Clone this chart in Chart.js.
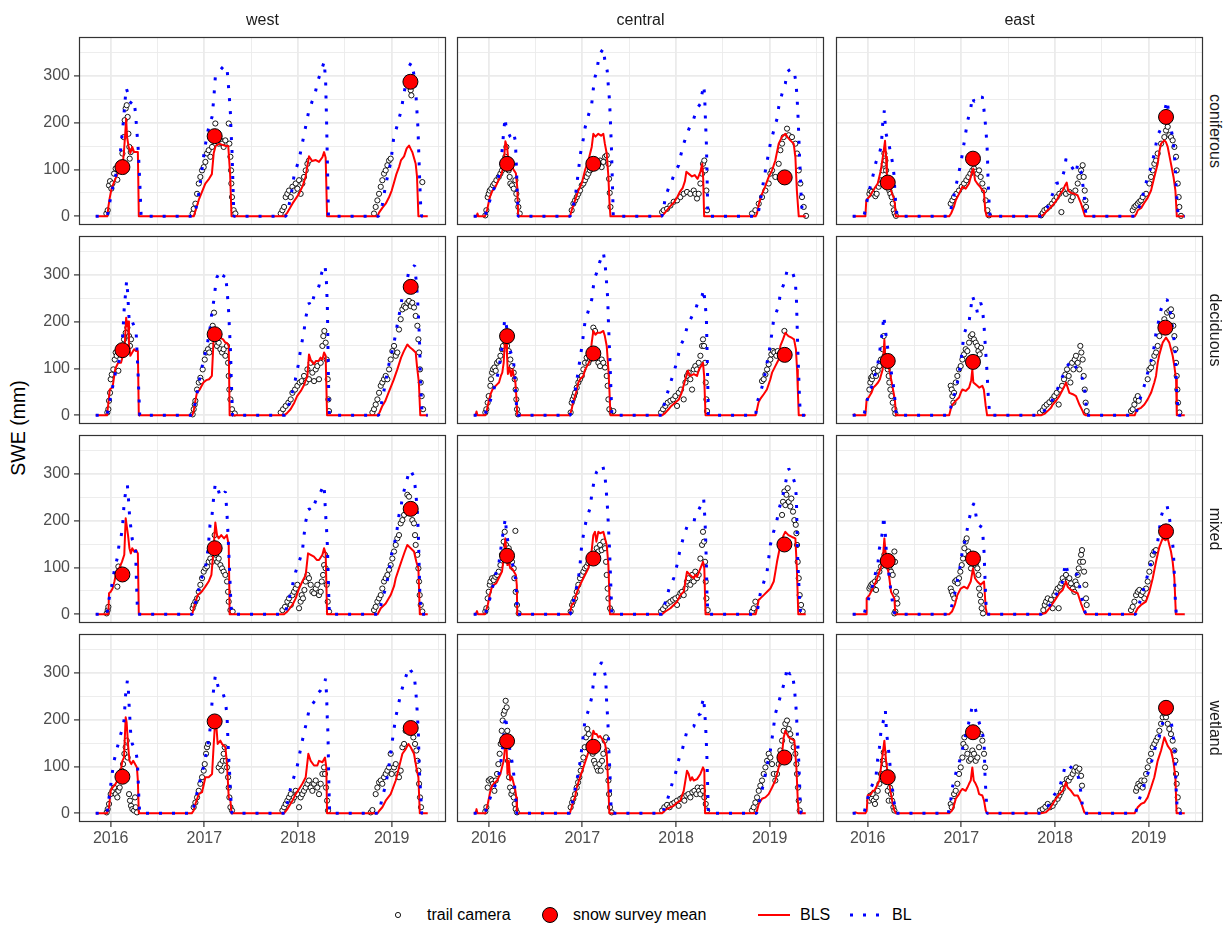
<!DOCTYPE html>
<html>
<head>
<meta charset="utf-8">
<script src="https://cdn.jsdelivr.net/npm/chart.js@4.4.1/dist/chart.umd.min.js"></script>
<style>
  html, body { margin: 0; padding: 0; background: #ffffff; }
  #page { position: relative; width: 1228px; height: 925px; overflow: hidden; font-family: "Liberation Sans", Arial, sans-serif; }
  #page canvas { position: absolute; }
  .stripTop { position: absolute; width: 367px; text-align: center; font-size: 16px; color: #1A1A1A; line-height: 18px; }
  .stripRight { position: absolute; width: 188px; text-align: center; font-size: 16px; color: #1A1A1A; line-height: 18px; transform-origin: center center; transform: rotate(90deg); }
  .ytitle { position: absolute; width: 200px; text-align: center; font-size: 19.5px; color: #000; line-height: 22px; transform: rotate(-90deg); }
  .legText { position: absolute; font-size: 16px; color: #000; line-height: 18px; white-space: nowrap; }
  .legKey { position: absolute; }
</style>
</head>
<body>
<div id="page"></div>
<script>
// Facets: land cover in rows, region in columns
const ROWS = ['coniferous', 'deciduous', 'mixed', 'wetland'];
const COLS = ['west', 'central', 'east'];

// Labelled (major) and unlabelled (minor) breaks: years and SWE (mm)
const X_TICKS = [2016, 2017, 2018, 2019];
const X_MINOR = [2016.5, 2017.5, 2018.5, 2019.5];
const Y_TICKS = [0, 100, 200, 300];
const Y_MINOR = [50, 150, 250, 350];

// ---------------- coniferous ----------------
const westConiferousCam = [
 [2015.954,6],[2015.968,13],[2015.982,66],[2015.993,75],[2016.007,59],[2016.018,70],[2016.036,91],[2016.053,102],[2016.071,78],[2016.107,112],[2016.125,134],[2016.139,169],[2016.149,205],[2016.16,230],[2016.171,237],[2016.181,212],[2016.189,176],[2016.199,148],[2016.214,137],[2016.203,123],
 [2016.875,6],[2016.886,16],[2016.904,27],[2016.922,48],[2016.94,70],[2016.957,84],[2016.975,98],[2016.993,105],[2017.011,116],[2017.028,134],[2017.046,141],[2017.064,127],[2017.082,148],[2017.1,169],[2017.117,198],[2017.135,169],[2017.153,155],[2017.171,162],[2017.189,155],[2017.206,148],[2017.224,162],[2017.26,198],[2017.267,155],[2017.278,127],[2017.285,98],[2017.288,70],[2017.295,41],[2017.313,13],[2017.331,6],
 [2017.815,6],[2017.833,13],[2017.851,20],[2017.868,41],[2017.886,48],[2017.904,55],[2017.922,41],[2017.94,63],[2017.957,55],[2017.975,70],[2017.993,59],[2018.011,77],[2018.028,48],[2018.046,70],[2018.064,84],[2018.082,98],[2018.1,112],[2018.117,119],
 [2018.811,6],[2018.829,20],[2018.847,34],[2018.865,48],[2018.883,63],[2018.9,77],[2018.918,91],[2018.936,98],[2018.954,109],[2018.972,119],[2018.989,123],[2019.203,269],[2019.21,258],[2019.327,73]
];
const westConiferousSurvey = [[2016.125,105],[2017.11,171],[2019.2,287]];
const westConiferousBLS = [
 [2015.84,0],[2015.964,0],[2015.975,20],[2015.99,40],[2016.01,60],[2016.05,80],[2016.09,97],[2016.125,105],[2016.14,134],[2016.155,176],[2016.165,208],[2016.175,169],[2016.19,150],[2016.21,135],[2016.23,148],[2016.25,137],[2016.27,137],[2016.29,137],[2016.3,0],
 [2016.886,0],[2016.91,15],[2016.94,35],[2016.98,55],[2017.01,70],[2017.05,80],[2017.08,90],[2017.1,135],[2017.12,150],[2017.16,155],[2017.2,152],[2017.23,150],[2017.255,150],[2017.275,90],[2017.29,0],
 [2017.851,0],[2017.886,8],[2017.94,27],[2018.01,48],[2018.05,65],[2018.08,84],[2018.117,128],[2018.15,118],[2018.19,120],[2018.224,116],[2018.26,126],[2018.278,137],[2018.295,125],[2018.31,0],
 [2018.847,0],[2018.865,8],[2018.9,18],[2018.936,27],[2018.97,40],[2019.0,55],[2019.025,72],[2019.05,90],[2019.078,105],[2019.1,120],[2019.132,128],[2019.16,145],[2019.185,151],[2019.2,145],[2019.22,137],[2019.256,112],[2019.27,85],[2019.285,0],[2019.385,0]
];
const westConiferousBL = [
 [2015.84,0],[2015.964,0],[2015.99,30],[2016.03,70],[2016.07,100],[2016.1,130],[2016.13,190],[2016.155,250],[2016.165,274],[2016.18,265],[2016.2,245],[2016.23,240],[2016.25,245],[2016.265,220],[2016.28,180],[2016.295,140],[2016.31,75],[2016.325,0],
 [2016.886,0],[2016.92,25],[2016.95,60],[2016.975,100],[2017.0,140],[2017.03,175],[2017.06,200],[2017.082,212],[2017.1,250],[2017.117,297],[2017.135,301],[2017.153,308],[2017.196,318],[2017.217,322],[2017.242,315],[2017.253,290],[2017.26,270],[2017.27,245],[2017.278,220],[2017.285,180],[2017.295,140],[2017.305,70],[2017.315,0],
 [2017.87,0],[2017.9,20],[2017.93,50],[2017.96,90],[2018.01,120],[2018.04,150],[2018.08,190],[2018.11,220],[2018.15,245],[2018.18,260],[2018.21,288],[2018.25,312],[2018.28,330],[2018.295,285],[2018.305,200],[2018.315,100],[2018.325,0],
 [2018.86,0],[2018.9,25],[2018.93,60],[2018.96,90],[2018.99,115],[2019.02,165],[2019.06,195],[2019.1,225],[2019.13,260],[2019.16,295],[2019.185,320],[2019.21,328],[2019.235,305],[2019.26,255],[2019.28,190],[2019.29,130],[2019.3,70],[2019.31,20],[2019.32,0],[2019.385,0]
];

const centralConiferousCam = [
 [2015.964,2],[2015.975,13],[2015.989,41],[2016.0,48],[2016.011,55],[2016.028,59],[2016.046,66],[2016.061,70],[2016.082,77],[2016.107,84],[2016.125,91],[2016.142,98],[2016.16,112],[2016.178,127],[2016.189,148],[2016.203,105],[2016.214,98],[2016.224,84],[2016.231,70],[2016.249,66],[2016.267,59],[2016.285,77],[2016.295,48],[2016.306,34],[2016.317,20],[2016.331,6],
 [2016.886,13],[2016.904,27],[2016.922,34],[2016.94,41],[2016.957,48],[2016.975,55],[2016.993,66],[2017.011,70],[2017.028,77],[2017.046,84],[2017.064,91],[2017.082,98],[2017.1,102],[2017.117,105],[2017.135,109],[2017.153,112],[2017.171,116],[2017.189,119],[2017.206,105],[2017.224,116],[2017.242,127],[2017.26,130],[2017.278,112],[2017.285,80],[2017.292,50],[2017.3,20],
 [2017.851,9],[2017.868,13],[2017.904,16],[2017.94,23],[2017.975,31],[2018.011,34],[2018.046,41],[2018.082,48],[2018.117,52],[2018.153,48],[2018.189,55],[2018.206,48],[2018.224,38],[2018.242,48],[2018.26,70],[2018.278,91],[2018.288,112],[2018.302,119],[2018.313,98],[2018.324,55],[2018.331,13],
 [2018.811,6],[2018.847,13],[2018.883,27],[2018.918,41],[2018.954,55],[2018.989,70],[2019.007,91],[2019.025,98],[2019.06,84],[2019.096,112],[2019.114,141],[2019.132,155],[2019.149,169],[2019.185,187],[2019.203,173],[2019.238,169],[2019.274,155],[2019.292,134],[2019.31,98],[2019.327,70],[2019.345,41],[2019.363,20],[2019.388,1]
];
const centralConiferousSurvey = [[2016.196,112],[2017.117,112],[2019.16,83]];
const centralConiferousBLS = [
 [2015.84,0],[2015.87,0],[2015.88,6],[2015.89,0],[2015.96,0],[2015.985,15],[2016.01,40],[2016.04,55],[2016.07,62],[2016.1,75],[2016.14,92],[2016.16,112],[2016.178,160],[2016.196,148],[2016.21,120],[2016.23,98],[2016.25,105],[2016.27,98],[2016.29,92],[2016.305,62],[2016.315,0],
 [2016.868,0],[2016.886,13],[2016.922,34],[2016.957,55],[2016.993,70],[2017.028,98],[2017.064,119],[2017.1,148],[2017.117,176],[2017.14,170],[2017.17,176],[2017.2,172],[2017.224,176],[2017.24,155],[2017.26,134],[2017.278,84],[2017.29,27],[2017.3,0],
 [2017.84,0],[2017.87,5],[2017.9,12],[2017.94,22],[2017.98,30],[2018.01,40],[2018.04,52],[2018.07,60],[2018.095,75],[2018.11,95],[2018.14,90],[2018.17,85],[2018.2,88],[2018.23,80],[2018.26,95],[2018.28,112],[2018.29,80],[2018.3,0],
 [2018.85,0],[2018.865,6],[2018.885,27],[2018.918,48],[2018.95,63],[2018.989,84],[2019.025,98],[2019.06,119],[2019.096,155],[2019.13,169],[2019.167,176],[2019.19,169],[2019.22,162],[2019.256,155],[2019.274,127],[2019.29,55],[2019.31,0],[2019.385,0]
];
const centralConiferousBL = [
 [2015.84,0],[2015.96,0],[2015.99,20],[2016.03,45],[2016.07,66],[2016.1,80],[2016.13,110],[2016.16,180],[2016.175,210],[2016.19,182],[2016.21,178],[2016.23,170],[2016.25,165],[2016.27,175],[2016.285,160],[2016.295,110],[2016.305,50],[2016.315,0],
 [2016.87,0],[2016.9,20],[2016.93,50],[2016.96,100],[2016.98,134],[2017.01,165],[2017.03,190],[2017.064,215],[2017.1,240],[2017.117,272],[2017.135,297],[2017.153,308],[2017.171,333],[2017.189,347],[2017.224,358],[2017.242,329],[2017.265,311],[2017.278,276],[2017.29,247],[2017.3,200],[2017.31,148],[2017.32,77],[2017.33,0],
 [2017.85,0],[2017.87,20],[2017.886,41],[2017.92,60],[2017.957,77],[2017.99,95],[2018.028,109],[2018.05,130],[2018.082,155],[2018.117,176],[2018.153,194],[2018.189,208],[2018.224,230],[2018.26,240],[2018.278,262],[2018.295,279],[2018.305,260],[2018.313,212],[2018.324,155],[2018.33,100],[2018.335,50],[2018.34,0],
 [2018.87,0],[2018.89,20],[2018.91,45],[2018.936,77],[2018.97,115],[2019.007,155],[2019.043,183],[2019.078,208],[2019.096,233],[2019.132,262],[2019.167,283],[2019.185,308],[2019.21,312],[2019.238,315],[2019.265,305],[2019.28,285],[2019.292,255],[2019.302,215],[2019.31,175],[2019.318,130],[2019.327,90],[2019.335,45],[2019.345,15],[2019.36,0],[2019.385,0]
];

const eastConiferousCam = [
 [2016.018,48],[2016.028,55],[2016.043,52],[2016.061,48],[2016.082,43],[2016.096,48],[2016.117,63],[2016.132,70],[2016.146,77],[2016.16,98],[2016.171,112],[2016.178,134],[2016.189,119],[2016.196,98],[2016.214,77],[2016.224,63],[2016.231,55],[2016.242,48],[2016.256,41],[2016.267,27],[2016.278,13],[2016.288,6],[2016.302,1],
 [2016.886,27],[2016.904,34],[2016.922,41],[2016.947,48],[2016.975,55],[2017.004,63],[2017.028,70],[2017.053,77],[2017.075,84],[2017.096,91],[2017.117,98],[2017.135,102],[2017.153,95],[2017.171,91],[2017.189,98],[2017.206,84],[2017.224,70],[2017.242,55],[2017.26,34],[2017.278,13],[2017.295,2],
 [2017.851,2],[2017.868,7],[2017.886,13],[2017.911,16],[2017.94,21],[2017.968,27],[2017.993,34],[2018.018,41],[2018.046,48],[2018.068,9],[2018.082,55],[2018.117,48],[2018.153,52],[2018.171,34],[2018.189,41],[2018.217,55],[2018.242,70],[2018.26,84],[2018.278,98],[2018.295,109],[2018.306,84],[2018.317,55],[2018.324,34],[2018.331,20],
 [2018.829,13],[2018.847,20],[2018.865,23],[2018.883,27],[2018.9,31],[2018.918,34],[2018.936,41],[2018.972,48],[2019.007,70],[2019.025,84],[2019.043,98],[2019.06,112],[2019.078,119],[2019.096,134],[2019.132,155],[2019.167,169],[2019.185,183],[2019.203,191],[2019.22,173],[2019.238,169],[2019.256,162],[2019.274,148],[2019.292,127],[2019.299,98],[2019.31,70],[2019.32,41],[2019.327,20],[2019.345,1]
];
const eastConiferousSurvey = [[2016.214,72],[2017.124,123],[2019.185,212]];
const eastConiferousBLS = [
 [2015.84,0],[2015.975,0],[2015.985,34],[2016.0,38],[2016.02,42],[2016.05,52],[2016.08,62],[2016.107,70],[2016.14,98],[2016.167,134],[2016.185,161],[2016.196,127],[2016.205,85],[2016.22,70],[2016.24,62],[2016.26,48],[2016.275,41],[2016.29,27],[2016.3,0],
 [2016.87,0],[2016.89,6],[2016.92,20],[2016.94,34],[2016.975,48],[2017.011,63],[2017.046,59],[2017.082,70],[2017.1,84],[2017.117,98],[2017.128,102],[2017.146,77],[2017.17,70],[2017.2,63],[2017.225,55],[2017.24,55],[2017.255,13],[2017.27,0],
 [2017.85,0],[2017.88,4],[2017.92,13],[2017.957,20],[2017.99,27],[2018.028,38],[2018.055,48],[2018.082,55],[2018.105,65],[2018.125,72],[2018.14,55],[2018.17,50],[2018.206,48],[2018.24,45],[2018.278,27],[2018.3,13],[2018.32,0],
 [2018.85,0],[2018.87,6],[2018.883,13],[2018.92,18],[2018.95,28],[2018.99,40],[2019.025,55],[2019.06,84],[2019.096,112],[2019.115,140],[2019.132,155],[2019.167,162],[2019.185,158],[2019.203,148],[2019.238,112],[2019.265,84],[2019.285,55],[2019.3,0],[2019.385,0]
];
const eastConiferousBL = [
 [2015.84,0],[2015.96,0],[2015.985,25],[2016.01,50],[2016.036,70],[2016.06,90],[2016.089,116],[2016.125,134],[2016.145,150],[2016.16,198],[2016.178,226],[2016.19,185],[2016.2,173],[2016.22,160],[2016.24,140],[2016.255,125],[2016.267,112],[2016.28,90],[2016.29,55],[2016.3,25],[2016.315,0],
 [2016.87,0],[2016.9,25],[2016.94,63],[2016.97,90],[2016.993,112],[2017.011,134],[2017.04,170],[2017.064,201],[2017.1,230],[2017.117,255],[2017.135,245],[2017.153,247],[2017.17,244],[2017.189,251],[2017.224,255],[2017.24,230],[2017.26,190],[2017.27,162],[2017.278,134],[2017.285,77],[2017.295,34],[2017.305,0],
 [2017.85,0],[2017.88,8],[2017.92,20],[2017.95,35],[2017.975,48],[2018.011,70],[2018.05,72],[2018.08,85],[2018.1,98],[2018.117,123],[2018.135,116],[2018.153,112],[2018.19,102],[2018.224,91],[2018.242,112],[2018.26,100],[2018.278,95],[2018.295,70],[2018.31,48],[2018.32,27],[2018.33,0],
 [2018.86,0],[2018.883,13],[2018.92,30],[2018.95,55],[2018.99,85],[2019.025,105],[2019.06,134],[2019.096,173],[2019.125,185],[2019.149,198],[2019.17,225],[2019.196,247],[2019.22,212],[2019.24,185],[2019.256,169],[2019.274,134],[2019.285,98],[2019.295,55],[2019.305,27],[2019.315,0],[2019.385,0]
];

// ---------------- deciduous ----------------
const westDeciduousCam = [
 [2015.964,6],[2015.975,13],[2015.982,31],[2015.993,48],[2016.0,77],[2016.011,87],[2016.028,98],[2016.043,119],[2016.053,134],[2016.064,127],[2016.082,95],[2016.107,141],[2016.125,148],[2016.142,162],[2016.16,176],[2016.178,187],[2016.196,169],[2016.206,148],[2016.217,162],
 [2016.875,2],[2016.886,13],[2016.897,23],[2016.904,31],[2016.922,55],[2016.94,70],[2016.957,80],[2016.968,73],[2016.982,98],[2017.004,119],[2017.018,134],[2017.039,141],[2017.053,134],[2017.075,148],[2017.089,191],[2017.103,219],[2017.117,162],[2017.135,148],[2017.153,155],[2017.171,141],[2017.189,134],[2017.206,141],[2017.224,127],[2017.242,148],[2017.253,112],[2017.26,84],[2017.267,55],[2017.278,34],[2017.295,13],[2017.324,4],
 [2017.815,6],[2017.84,13],[2017.868,20],[2017.897,27],[2017.922,34],[2017.94,48],[2017.968,55],[2017.993,63],[2018.018,70],[2018.039,73],[2018.064,84],[2018.082,70],[2018.1,98],[2018.117,77],[2018.135,112],[2018.153,91],[2018.171,73],[2018.189,98],[2018.206,105],[2018.224,77],[2018.242,112],[2018.26,148],[2018.27,169],[2018.281,180],[2018.295,155],[2018.306,119],[2018.317,77],[2018.324,34],[2018.331,9],
 [2018.794,6],[2018.811,13],[2018.829,23],[2018.847,34],[2018.865,48],[2018.883,63],[2018.9,70],[2018.918,77],[2018.936,84],[2018.954,77],[2018.972,98],[2018.989,119],[2019.007,137],[2019.025,148],[2019.043,127],[2019.06,134],[2019.078,183],[2019.096,205],[2019.114,226],[2019.132,233],[2019.149,230],[2019.167,240],[2019.185,244],[2019.203,233],[2019.22,240],[2019.238,230],[2019.256,212],[2019.274,191],[2019.285,162],[2019.292,134],[2019.302,98],[2019.31,70],[2019.32,41],[2019.335,13]
];
const westDeciduousSurvey = [[2016.125,139],[2017.11,173],[2019.203,274]];
const westDeciduousBLS = [
 [2015.84,0],[2015.96,0],[2015.975,25],[2015.99,55],[2016.02,60],[2016.05,100],[2016.08,112],[2016.11,112],[2016.13,127],[2016.15,150],[2016.165,208],[2016.175,190],[2016.185,200],[2016.195,150],[2016.21,127],[2016.23,134],[2016.25,141],[2016.27,137],[2016.29,137],[2016.3,0],
 [2016.87,0],[2016.886,9],[2016.9,27],[2016.92,48],[2016.95,55],[2016.99,70],[2017.02,75],[2017.05,77],[2017.08,84],[2017.1,169],[2017.117,176],[2017.14,169],[2017.17,165],[2017.2,162],[2017.224,155],[2017.24,155],[2017.26,148],[2017.27,0],
 [2017.85,0],[2017.88,4],[2017.92,13],[2017.96,27],[2017.99,41],[2018.03,52],[2018.06,63],[2018.1,84],[2018.117,130],[2018.14,116],[2018.17,109],[2018.19,116],[2018.22,116],[2018.24,123],[2018.26,119],[2018.278,134],[2018.295,127],[2018.31,0],
 [2018.85,0],[2018.87,6],[2018.9,20],[2018.93,30],[2018.96,45],[2018.99,60],[2019.02,75],[2019.06,98],[2019.1,123],[2019.13,137],[2019.167,151],[2019.2,144],[2019.22,141],[2019.256,134],[2019.27,105],[2019.29,70],[2019.305,0],[2019.385,0]
];
const westDeciduousBL = [
 [2015.84,0],[2015.96,0],[2015.985,25],[2016.02,60],[2016.05,90],[2016.08,110],[2016.11,130],[2016.13,176],[2016.145,230],[2016.16,262],[2016.17,287],[2016.18,265],[2016.195,210],[2016.21,195],[2016.23,200],[2016.25,190],[2016.27,185],[2016.28,140],[2016.29,100],[2016.3,50],[2016.31,0],
 [2016.87,0],[2016.9,25],[2016.93,55],[2016.96,90],[2016.993,119],[2017.03,150],[2017.064,190],[2017.08,220],[2017.1,244],[2017.117,272],[2017.135,295],[2017.153,301],[2017.17,292],[2017.189,290],[2017.21,298],[2017.224,301],[2017.242,269],[2017.26,219],[2017.27,175],[2017.28,134],[2017.287,77],[2017.295,34],[2017.3,0],
 [2017.86,0],[2017.88,10],[2017.91,28],[2017.94,50],[2017.97,75],[2018.0,105],[2018.028,141],[2018.064,180],[2018.082,208],[2018.117,240],[2018.14,232],[2018.171,255],[2018.2,265],[2018.224,276],[2018.253,304],[2018.278,315],[2018.288,320],[2018.302,290],[2018.313,233],[2018.318,170],[2018.323,98],[2018.328,41],[2018.335,0],
 [2018.86,0],[2018.88,15],[2018.9,35],[2018.93,65],[2018.96,100],[2018.99,125],[2019.025,155],[2019.06,194],[2019.09,225],[2019.114,255],[2019.14,270],[2019.167,290],[2019.185,311],[2019.22,315],[2019.245,320],[2019.26,290],[2019.274,255],[2019.285,215],[2019.292,183],[2019.3,140],[2019.305,90],[2019.315,41],[2019.325,0],[2019.385,0]
];

const centralDeciduousCam = [
 [2015.964,6],[2015.975,13],[2015.989,27],[2016.0,41],[2016.018,63],[2016.025,77],[2016.036,91],[2016.046,98],[2016.061,102],[2016.075,95],[2016.089,112],[2016.107,116],[2016.125,127],[2016.142,141],[2016.153,148],[2016.167,162],[2016.181,155],[2016.196,148],[2016.214,137],[2016.231,119],[2016.249,105],[2016.267,91],[2016.278,77],[2016.288,55],[2016.295,34],[2016.302,13],[2016.313,2],
 [2016.875,6],[2016.886,27],[2016.897,34],[2016.911,41],[2016.922,48],[2016.94,59],[2016.957,70],[2016.975,77],[2016.993,84],[2017.011,98],[2017.028,112],[2017.046,123],[2017.064,112],[2017.082,119],[2017.1,134],[2017.117,187],[2017.135,180],[2017.153,127],[2017.171,112],[2017.189,105],[2017.206,119],[2017.224,112],[2017.242,102],[2017.26,84],[2017.27,63],[2017.278,34],[2017.288,13],[2017.313,6],[2017.331,9],
 [2017.84,6],[2017.861,13],[2017.886,20],[2017.911,27],[2017.94,31],[2017.968,34],[2017.993,41],[2018.011,20],[2018.028,48],[2018.053,55],[2018.082,34],[2018.1,70],[2018.117,84],[2018.135,91],[2018.153,77],[2018.171,55],[2018.189,98],[2018.206,105],[2018.224,98],[2018.242,112],[2018.26,127],[2018.278,148],[2018.288,162],[2018.299,148],[2018.31,112],[2018.317,70],[2018.324,34],[2018.331,9],
 [2018.918,73],[2018.936,77],[2018.954,87],[2018.972,98],[2018.989,109],[2019.007,119],[2019.018,130],[2019.036,137],[2019.05,134],[2019.071,127],[2019.085,137],[2019.157,180]
];
const centralDeciduousSurvey = [[2016.196,169],[2017.117,132],[2019.16,129]];
const centralDeciduousBLS = [
 [2015.84,0],[2015.86,0],[2015.87,8],[2015.88,0],[2015.965,0],[2015.98,10],[2016.0,30],[2016.02,45],[2016.04,55],[2016.07,62],[2016.09,66],[2016.11,70],[2016.13,84],[2016.145,91],[2016.16,112],[2016.17,150],[2016.185,169],[2016.195,130],[2016.205,88],[2016.22,102],[2016.24,84],[2016.255,98],[2016.27,80],[2016.285,70],[2016.295,40],[2016.305,0],
 [2016.865,0],[2016.886,13],[2016.9,27],[2016.932,48],[2016.957,70],[2016.98,78],[2017.01,84],[2017.03,98],[2017.05,105],[2017.08,116],[2017.1,155],[2017.117,180],[2017.14,172],[2017.16,176],[2017.19,176],[2017.224,180],[2017.24,169],[2017.26,148],[2017.278,98],[2017.29,48],[2017.3,0],
 [2017.85,0],[2017.88,4],[2017.92,13],[2017.95,20],[2017.99,27],[2018.03,34],[2018.06,48],[2018.08,63],[2018.11,84],[2018.125,95],[2018.15,84],[2018.19,88],[2018.224,84],[2018.245,98],[2018.267,105],[2018.288,112],[2018.3,84],[2018.315,0],
 [2018.85,0],[2018.865,13],[2018.88,27],[2018.9,35],[2018.936,45],[2018.97,55],[2019.007,77],[2019.025,91],[2019.06,105],[2019.096,119],[2019.114,148],[2019.142,162],[2019.167,176],[2019.2,169],[2019.238,165],[2019.26,162],[2019.28,141],[2019.292,98],[2019.3,55],[2019.31,0],[2019.385,0]
];
const centralDeciduousBL = [
 [2015.84,0],[2015.96,0],[2015.98,15],[2016.01,27],[2016.04,45],[2016.07,66],[2016.1,90],[2016.13,126],[2016.155,170],[2016.171,206],[2016.189,191],[2016.2,176],[2016.214,148],[2016.23,137],[2016.25,127],[2016.267,112],[2016.28,77],[2016.29,41],[2016.3,13],[2016.31,0],
 [2016.87,0],[2016.9,30],[2016.93,60],[2016.96,100],[2016.993,144],[2017.028,199],[2017.064,223],[2017.1,247],[2017.117,274],[2017.135,295],[2017.153,304],[2017.171,318],[2017.189,329],[2017.224,347],[2017.242,325],[2017.26,279],[2017.27,251],[2017.28,190],[2017.29,140],[2017.3,84],[2017.31,27],[2017.315,0],
 [2017.85,0],[2017.87,20],[2017.886,34],[2017.92,55],[2017.95,75],[2017.975,91],[2018.01,115],[2018.046,148],[2018.082,162],[2018.117,187],[2018.15,203],[2018.189,219],[2018.215,230],[2018.242,247],[2018.278,255],[2018.295,269],[2018.31,240],[2018.324,208],[2018.33,150],[2018.335,105],[2018.34,55],[2018.345,0],
 [2018.85,0],[2018.865,27],[2018.9,48],[2018.936,73],[2018.97,110],[2019.007,151],[2019.043,205],[2019.07,220],[2019.096,233],[2019.114,262],[2019.149,279],[2019.17,295],[2019.185,308],[2019.21,311],[2019.238,308],[2019.26,295],[2019.274,283],[2019.285,250],[2019.292,198],[2019.3,140],[2019.31,84],[2019.32,27],[2019.33,0],[2019.385,0]
];

const eastDeciduousCam = [
 [2016.018,55],[2016.028,70],[2016.036,80],[2016.046,77],[2016.053,84],[2016.064,98],[2016.075,91],[2016.089,84],[2016.107,95],[2016.125,105],[2016.142,119],[2016.16,141],[2016.171,169],[2016.181,127],[2016.196,112],[2016.214,98],[2016.224,84],[2016.231,70],[2016.242,55],[2016.253,41],[2016.267,27],[2016.285,13],[2016.295,4],
 [2016.886,63],[2016.897,55],[2016.904,41],[2016.915,27],[2016.922,48],[2016.94,70],[2016.957,84],[2016.975,98],[2016.993,105],[2017.011,119],[2017.028,130],[2017.046,141],[2017.064,137],[2017.082,155],[2017.1,169],[2017.117,173],[2017.135,162],[2017.153,155],[2017.171,148],[2017.182,137],[2017.196,130],[2017.21,144],
 [2017.84,6],[2017.868,11],[2017.886,18],[2017.911,23],[2017.94,28],[2017.968,34],[2017.993,41],[2018.018,48],[2018.039,23],[2018.053,55],[2018.075,63],[2018.096,77],[2018.11,87],[2018.128,98],[2018.146,84],[2018.164,70],[2018.182,112],[2018.196,98],[2018.21,119],[2018.224,127],[2018.242,112],[2018.26,98],[2018.27,148],[2018.281,134],[2018.295,119],[2018.306,84],[2018.317,55],[2018.327,27],[2018.338,9],
 [2018.811,9],[2018.829,13],[2018.847,23],[2018.865,34],[2018.883,41],[2018.893,31],[2018.989,77],[2019.007,98],[2019.025,102],[2019.043,112],[2019.06,127],[2019.078,134],[2019.096,148],[2019.114,169],[2019.132,191],[2019.167,205],[2019.196,219],[2019.22,223],[2019.238,226],[2019.249,212],[2019.263,191],[2019.274,169],[2019.285,141],[2019.292,112],[2019.299,84],[2019.306,55],[2019.313,27],[2019.327,6]
];
const eastDeciduousSurvey = [[2016.214,116],[2017.124,114],[2019.178,187]];
const eastDeciduousBLS = [
 [2015.84,0],[2015.86,2],[2015.87,0],[2015.975,0],[2015.989,34],[2016.01,38],[2016.04,48],[2016.06,59],[2016.08,63],[2016.11,70],[2016.13,77],[2016.15,91],[2016.16,98],[2016.178,161],[2016.19,112],[2016.21,105],[2016.23,98],[2016.25,77],[2016.27,55],[2016.29,34],[2016.302,0],
 [2016.87,0],[2016.886,13],[2016.905,23],[2016.94,31],[2016.975,38],[2016.993,48],[2017.011,55],[2017.046,52],[2017.082,59],[2017.105,75],[2017.117,98],[2017.128,70],[2017.153,66],[2017.17,63],[2017.19,59],[2017.224,63],[2017.24,55],[2017.26,20],[2017.275,0],
 [2017.85,0],[2017.886,3],[2017.92,9],[2017.957,16],[2017.975,23],[2018.011,31],[2018.046,41],[2018.082,55],[2018.1,62],[2018.117,70],[2018.135,59],[2018.153,48],[2018.19,45],[2018.224,41],[2018.26,23],[2018.295,9],[2018.31,2],[2018.33,0],
 [2018.85,0],[2018.865,8],[2018.883,13],[2018.918,16],[2018.954,23],[2018.989,34],[2019.025,48],[2019.06,70],[2019.078,84],[2019.096,112],[2019.114,130],[2019.149,155],[2019.185,166],[2019.22,155],[2019.238,141],[2019.256,127],[2019.274,105],[2019.292,77],[2019.3,0],[2019.385,0]
];
const eastDeciduousBL = [
 [2015.84,0],[2015.96,0],[2015.98,20],[2016.01,45],[2016.04,60],[2016.07,80],[2016.1,100],[2016.125,130],[2016.142,159],[2016.16,183],[2016.171,212],[2016.189,183],[2016.205,155],[2016.231,119],[2016.249,95],[2016.265,77],[2016.28,55],[2016.29,34],[2016.305,0],
 [2016.87,0],[2016.89,20],[2016.92,40],[2016.95,60],[2016.97,85],[2016.993,112],[2017.028,173],[2017.05,185],[2017.082,199],[2017.1,226],[2017.117,255],[2017.135,245],[2017.153,237],[2017.171,219],[2017.19,230],[2017.206,240],[2017.224,230],[2017.242,191],[2017.26,134],[2017.27,105],[2017.278,77],[2017.285,48],[2017.295,20],[2017.305,0],
 [2017.85,0],[2017.88,8],[2017.91,16],[2017.94,23],[2017.975,34],[2018.011,48],[2018.046,66],[2018.082,84],[2018.117,102],[2018.15,110],[2018.189,116],[2018.206,112],[2018.224,102],[2018.26,91],[2018.295,77],[2018.31,63],[2018.32,48],[2018.33,27],[2018.34,0],
 [2018.86,0],[2018.88,15],[2018.9,30],[2018.936,52],[2018.97,75],[2019.0,100],[2019.03,120],[2019.06,148],[2019.078,176],[2019.1,195],[2019.132,226],[2019.167,244],[2019.196,247],[2019.22,230],[2019.238,212],[2019.256,183],[2019.274,155],[2019.285,127],[2019.292,84],[2019.3,48],[2019.31,20],[2019.32,0],[2019.385,0]
];

// ---------------- mixed ----------------
const westMixedCam = [
 [2015.957,2],[2015.968,9],[2015.975,16],[2016.071,59],[2016.082,102],
 [2016.875,13],[2016.886,20],[2016.904,27],[2016.922,34],[2016.94,48],[2016.957,63],[2016.975,77],[2016.993,91],[2017.011,98],[2017.028,102],[2017.046,112],[2017.064,119],[2017.082,112],[2017.1,134],[2017.11,169],[2017.124,127],[2017.139,112],[2017.153,119],[2017.171,105],[2017.189,98],[2017.206,91],[2017.224,84],[2017.242,70],[2017.253,48],[2017.26,27],[2017.278,9],[2017.302,6],
 [2017.833,9],[2017.861,16],[2017.886,27],[2017.904,34],[2017.922,20],[2017.94,41],[2017.957,48],[2017.975,55],[2017.993,63],[2018.011,13],[2018.028,27],[2018.039,41],[2018.053,34],[2018.068,52],[2018.082,70],[2018.1,84],[2018.117,77],[2018.135,63],[2018.153,48],[2018.171,45],[2018.189,55],[2018.206,63],[2018.224,41],[2018.242,48],[2018.253,70],[2018.267,84],[2018.278,105],[2018.288,127],[2018.295,98],[2018.306,63],[2018.317,27],[2018.331,6],
 [2018.811,9],[2018.829,16],[2018.847,27],[2018.865,34],[2018.883,41],[2018.9,55],[2018.918,70],[2018.936,77],[2018.954,84],[2018.972,95],[2018.989,105],[2019.007,119],[2019.025,134],[2019.043,148],[2019.06,162],[2019.078,169],[2019.096,194],[2019.114,201],[2019.132,212],[2019.167,255],[2019.185,251],[2019.22,201],[2019.238,194],[2019.249,169],[2019.256,148],[2019.274,127],[2019.285,98],[2019.292,70],[2019.299,41],[2019.31,20],[2019.327,6]
];
const westMixedSurvey = [[2016.125,85],[2017.11,141],[2019.203,225]];
const westMixedBLS = [
 [2015.84,0],[2015.975,0],[2015.982,45],[2016.0,48],[2016.02,55],[2016.04,70],[2016.06,91],[2016.09,98],[2016.12,112],[2016.145,127],[2016.16,205],[2016.17,190],[2016.185,169],[2016.2,141],[2016.215,130],[2016.23,141],[2016.25,134],[2016.27,137],[2016.29,130],[2016.3,0],
 [2016.87,0],[2016.886,13],[2016.905,27],[2016.93,41],[2016.97,48],[2017.01,59],[2017.046,70],[2017.075,84],[2017.095,130],[2017.117,196],[2017.135,169],[2017.153,162],[2017.18,169],[2017.21,162],[2017.24,169],[2017.26,148],[2017.27,0],
 [2017.85,0],[2017.886,6],[2017.94,20],[2017.975,34],[2018.011,55],[2018.046,70],[2018.082,84],[2018.107,130],[2018.135,127],[2018.17,123],[2018.2,116],[2018.224,116],[2018.26,127],[2018.278,141],[2018.295,130],[2018.31,0],
 [2018.85,0],[2018.883,13],[2018.936,23],[2018.989,41],[2019.025,60],[2019.043,77],[2019.078,98],[2019.114,119],[2019.14,134],[2019.167,148],[2019.203,141],[2019.238,134],[2019.263,112],[2019.285,98],[2019.3,0],[2019.385,0]
];
const westMixedBL = [
 [2015.84,0],[2015.96,0],[2015.98,30],[2016.01,60],[2016.04,95],[2016.07,120],[2016.089,148],[2016.11,165],[2016.125,183],[2016.142,233],[2016.16,262],[2016.178,276],[2016.19,245],[2016.2,215],[2016.215,185],[2016.23,160],[2016.249,148],[2016.265,140],[2016.275,70],[2016.285,13],[2016.29,0],
 [2016.87,0],[2016.9,20],[2016.93,45],[2016.96,70],[2016.99,90],[2017.011,98],[2017.04,140],[2017.06,190],[2017.082,212],[2017.1,251],[2017.117,279],[2017.135,270],[2017.153,262],[2017.171,250],[2017.189,255],[2017.224,262],[2017.24,220],[2017.253,169],[2017.26,134],[2017.27,91],[2017.278,48],[2017.29,0],
 [2017.86,0],[2017.886,20],[2017.92,45],[2017.95,70],[2017.975,91],[2018.011,112],[2018.046,134],[2018.065,170],[2018.082,198],[2018.117,226],[2018.14,220],[2018.171,233],[2018.206,251],[2018.235,258],[2018.26,269],[2018.278,276],[2018.295,212],[2018.305,180],[2018.313,148],[2018.322,84],[2018.33,27],[2018.335,0],
 [2018.86,0],[2018.88,15],[2018.9,35],[2018.936,55],[2018.97,90],[2019.0,130],[2019.025,148],[2019.05,170],[2019.078,212],[2019.096,223],[2019.114,251],[2019.149,276],[2019.185,304],[2019.203,308],[2019.22,300],[2019.238,294],[2019.256,262],[2019.274,219],[2019.285,169],[2019.292,112],[2019.3,48],[2019.31,13],[2019.32,0],[2019.385,0]
];

const centralMixedCam = [
 [2015.964,6],[2015.975,13],[2015.989,34],[2016.0,48],[2016.011,63],[2016.018,70],[2016.036,77],[2016.053,73],[2016.071,80],[2016.089,84],[2016.107,91],[2016.125,105],[2016.142,127],[2016.16,155],[2016.171,176],[2016.185,148],[2016.196,134],[2016.214,141],[2016.231,127],[2016.249,112],[2016.267,98],[2016.285,178],[2016.274,77],[2016.288,48],[2016.302,20],[2016.32,2],
 [2016.875,6],[2016.89,20],[2016.904,27],[2016.922,34],[2016.94,48],[2016.957,63],[2016.975,77],[2016.993,84],[2017.011,91],[2017.028,98],[2017.046,102],[2017.064,109],[2017.082,116],[2017.1,119],[2017.117,123],[2017.135,127],[2017.153,141],[2017.171,134],[2017.189,148],[2017.206,137],[2017.224,155],[2017.242,141],[2017.253,112],[2017.26,84],[2017.27,55],[2017.278,34],[2017.295,13],[2017.313,6],
 [2017.84,6],[2017.861,11],[2017.886,18],[2017.911,23],[2017.94,27],[2017.968,31],[2017.993,34],[2018.011,20],[2018.028,38],[2018.046,45],[2018.064,48],[2018.082,41],[2018.1,55],[2018.117,70],[2018.135,77],[2018.153,63],[2018.171,84],[2018.189,70],[2018.206,91],[2018.224,77],[2018.242,84],[2018.26,119],[2018.278,148],[2018.288,176],[2018.299,155],[2018.31,112],[2018.317,70],[2018.324,34],[2018.338,9],
 [2018.811,6],[2018.829,13],[2018.847,27],[2019.132,212],[2019.142,240],[2019.157,262],[2019.167,233],[2019.178,255],[2019.192,269],[2019.203,240],[2019.22,230],[2019.231,247],[2019.249,219],[2019.263,201],[2019.278,191],[2019.285,173],[2019.292,148],[2019.299,112],[2019.31,77],[2019.32,41],[2019.335,20],[2019.352,6]
];
const centralMixedSurvey = [[2016.196,125],[2017.117,119],[2019.157,149]];
const centralMixedBLS = [
 [2015.84,0],[2015.86,0],[2015.875,7],[2015.885,0],[2015.96,0],[2015.99,20],[2016.011,41],[2016.03,55],[2016.053,63],[2016.08,66],[2016.107,77],[2016.142,91],[2016.16,120],[2016.178,162],[2016.19,127],[2016.2,105],[2016.214,112],[2016.23,98],[2016.25,98],[2016.27,91],[2016.29,84],[2016.3,62],[2016.305,0],
 [2016.865,0],[2016.886,20],[2016.904,23],[2016.932,41],[2016.957,55],[2016.993,70],[2017.028,84],[2017.064,98],[2017.082,119],[2017.1,137],[2017.117,169],[2017.135,176],[2017.15,155],[2017.17,176],[2017.19,173],[2017.224,176],[2017.242,162],[2017.26,148],[2017.278,105],[2017.295,0],
 [2017.85,0],[2017.886,6],[2017.94,13],[2017.975,20],[2018.011,27],[2018.046,41],[2018.082,48],[2018.1,70],[2018.117,91],[2018.15,84],[2018.189,77],[2018.206,84],[2018.224,80],[2018.26,98],[2018.288,112],[2018.302,98],[2018.315,0],
 [2018.85,0],[2018.865,13],[2018.883,31],[2018.9,34],[2018.936,41],[2018.972,48],[2019.007,55],[2019.043,70],[2019.06,90],[2019.078,112],[2019.114,148],[2019.149,169],[2019.167,176],[2019.2,169],[2019.238,165],[2019.274,162],[2019.29,98],[2019.305,0],[2019.385,0]
];
const centralMixedBL = [
 [2015.84,0],[2015.96,0],[2015.99,15],[2016.02,40],[2016.05,65],[2016.08,90],[2016.11,110],[2016.13,140],[2016.16,183],[2016.178,205],[2016.189,176],[2016.2,162],[2016.214,141],[2016.231,115],[2016.25,110],[2016.267,98],[2016.285,77],[2016.295,48],[2016.305,0],
 [2016.87,0],[2016.9,25],[2016.93,50],[2016.96,80],[2016.975,105],[2016.993,148],[2017.02,180],[2017.046,205],[2017.082,226],[2017.1,255],[2017.117,275],[2017.135,294],[2017.153,304],[2017.182,311],[2017.217,318],[2017.242,294],[2017.26,251],[2017.27,222],[2017.28,180],[2017.29,140],[2017.3,84],[2017.31,27],[2017.315,0],
 [2017.85,0],[2017.87,15],[2017.9,35],[2017.922,52],[2017.95,65],[2017.975,77],[2018.01,105],[2018.046,141],[2018.082,166],[2018.117,187],[2018.15,190],[2018.189,194],[2018.206,212],[2018.24,222],[2018.26,230],[2018.278,240],[2018.295,247],[2018.31,198],[2018.318,148],[2018.325,98],[2018.33,48],[2018.34,0],
 [2018.86,0],[2018.88,20],[2018.9,45],[2018.936,68],[2018.972,91],[2019.007,148],[2019.04,175],[2019.071,194],[2019.1,225],[2019.132,247],[2019.16,270],[2019.185,297],[2019.203,311],[2019.238,298],[2019.26,285],[2019.274,276],[2019.285,247],[2019.292,176],[2019.3,112],[2019.31,70],[2019.32,27],[2019.33,0],[2019.385,0]
];

const eastMixedCam = [
 [2016.018,55],[2016.028,59],[2016.039,63],[2016.053,66],[2016.064,55],[2016.078,70],[2016.089,52],[2016.107,77],[2016.125,91],[2016.142,102],[2016.16,112],[2016.178,127],[2016.196,119],[2016.214,105],[2016.231,98],[2016.249,91],[2016.267,84],[2016.285,134],[2016.292,112],[2016.302,48],[2016.31,34],[2016.317,23],[2016.295,6],[2016.285,2],
 [2016.886,55],[2016.897,48],[2016.911,41],[2016.925,34],[2016.932,70],[2016.947,73],[2016.961,66],[2016.975,77],[2016.989,91],[2017.004,105],[2017.018,119],[2017.032,141],[2017.046,155],[2017.057,162],[2017.075,134],[2017.089,112],[2017.103,98],[2017.117,127],[2017.135,119],[2017.153,105],[2017.171,98],[2017.182,84],[2017.189,55],[2017.2,41],[2017.21,27],[2017.217,13],[2017.231,2],
 [2017.875,9],[2017.89,20],[2017.904,27],[2017.922,34],[2017.94,23],[2017.957,31],[2017.975,13],[2017.993,41],[2018.011,48],[2018.028,55],[2018.039,13],[2018.053,59],[2018.068,66],[2018.082,77],[2018.1,70],[2018.117,84],[2018.135,70],[2018.153,77],[2018.171,66],[2018.189,55],[2018.206,48],[2018.217,70],[2018.231,63],[2018.242,84],[2018.253,98],[2018.267,112],[2018.278,127],[2018.288,137],[2018.299,112],[2018.31,91],[2018.324,63],[2018.331,34],[2018.338,20],
 [2018.811,9],[2018.829,16],[2018.847,27],[2018.865,41],[2018.883,48],[2018.9,52],[2018.918,41],[2018.936,48],[2018.954,34],[2018.972,55],[2018.989,70],[2019.007,91],[2019.025,109],[2019.043,127],[2019.06,134],[2019.078,137]
];
const eastMixedSurvey = [[2016.214,114],[2017.124,119],[2019.185,177]];
const eastMixedBLS = [
 [2015.84,0],[2015.982,0],[2015.989,34],[2016.018,41],[2016.053,55],[2016.089,70],[2016.125,91],[2016.16,112],[2016.178,162],[2016.196,119],[2016.214,98],[2016.231,77],[2016.249,48],[2016.267,41],[2016.285,34],[2016.295,0],
 [2016.87,0],[2016.9,6],[2016.93,20],[2016.957,41],[2016.993,55],[2017.028,59],[2017.064,55],[2017.1,70],[2017.124,98],[2017.146,77],[2017.17,70],[2017.206,63],[2017.242,70],[2017.26,13],[2017.275,0],
 [2017.85,0],[2017.9,3],[2017.94,13],[2017.975,23],[2018.011,34],[2018.046,45],[2018.082,52],[2018.117,70],[2018.135,59],[2018.171,52],[2018.206,48],[2018.242,45],[2018.278,23],[2018.31,6],[2018.33,0],
 [2018.85,0],[2018.883,13],[2018.918,20],[2018.97,27],[2019.007,48],[2019.043,77],[2019.078,112],[2019.114,144],[2019.149,162],[2019.178,158],[2019.203,162],[2019.22,148],[2019.238,134],[2019.256,112],[2019.274,77],[2019.29,0],[2019.385,0]
];
const eastMixedBL = [
 [2015.84,0],[2015.96,0],[2015.99,20],[2016.02,40],[2016.05,60],[2016.08,85],[2016.11,110],[2016.125,140],[2016.142,155],[2016.16,180],[2016.171,210],[2016.189,169],[2016.2,130],[2016.214,112],[2016.231,77],[2016.249,48],[2016.267,23],[2016.28,6],[2016.29,0],
 [2016.87,0],[2016.9,20],[2016.93,45],[2016.96,75],[2016.99,105],[2017.011,137],[2017.046,162],[2017.07,190],[2017.1,218],[2017.117,230],[2017.135,237],[2017.153,215],[2017.171,194],[2017.189,190],[2017.224,185],[2017.242,134],[2017.253,73],[2017.26,34],[2017.27,0],
 [2017.85,0],[2017.89,8],[2017.93,16],[2017.97,27],[2018.01,41],[2018.046,55],[2018.08,70],[2018.11,109],[2018.135,91],[2018.171,84],[2018.206,87],[2018.242,84],[2018.278,41],[2018.295,27],[2018.313,9],[2018.33,0],
 [2018.86,0],[2018.883,13],[2018.918,34],[2018.954,60],[2018.989,84],[2019.025,110],[2019.06,134],[2019.096,155],[2019.132,208],[2019.167,230],[2019.196,232],[2019.22,208],[2019.24,176],[2019.263,137],[2019.274,84],[2019.285,27],[2019.295,0],[2019.385,0]
];

// ---------------- wetland ----------------
const westWetlandCam = [
 [2015.957,2],[2015.968,9],[2015.982,20],[2016.0,41],[2016.018,48],[2016.036,55],[2016.053,41],[2016.071,34],[2016.082,48],[2016.096,55],[2016.107,70],[2016.117,91],[2016.132,105],[2016.146,127],[2016.16,141],[2016.171,155],[2016.181,119],[2016.196,41],[2016.206,27],[2016.217,16],[2016.231,9],[2016.249,6],[2016.267,13],[2016.26,34],[2016.281,2],
 [2016.886,13],[2016.904,23],[2016.922,34],[2016.94,48],[2016.957,63],[2016.975,77],[2016.993,91],[2017.004,105],[2017.018,127],[2017.028,141],[2017.039,148],[2017.153,98],[2017.171,105],[2017.182,91],[2017.196,112],[2017.206,127],[2017.217,141],[2017.231,112],[2017.242,98],[2017.253,77],[2017.26,55],[2017.267,34],[2017.278,13],[2017.295,6],
 [2017.833,6],[2017.851,13],[2017.868,20],[2017.886,27],[2017.904,34],[2017.922,41],[2017.94,27],[2017.957,34],[2017.975,48],[2017.993,41],[2018.011,13],[2018.028,34],[2018.046,41],[2018.064,48],[2018.082,55],[2018.1,63],[2018.117,70],[2018.135,55],[2018.153,48],[2018.171,63],[2018.189,70],[2018.206,55],[2018.224,41],[2018.242,63],[2018.26,84],[2018.278,98],[2018.288,84],[2018.299,55],[2018.31,27],[2018.32,6],
 [2018.776,2],[2018.794,7],[2018.829,41],[2018.847,55],[2018.865,66],[2018.883,70],[2018.9,63],[2018.918,77],[2018.936,84],[2018.954,91],[2018.972,98],[2018.989,127],[2019.0,84],[2019.025,98],[2019.043,105],[2019.06,84],[2019.078,77],[2019.096,91],[2019.114,141],[2019.132,148],[2019.149,176],[2019.167,180],[2019.185,176],[2019.213,183],[2019.231,162],[2019.249,148],[2019.263,134],[2019.274,112],[2019.285,91],[2019.292,63],[2019.302,34],[2019.313,13]
];
const westWetlandSurvey = [[2016.125,78],[2017.11,196],[2019.203,182]];
const westWetlandBLS = [
 [2015.84,0],[2015.96,0],[2015.982,13],[2016.0,48],[2016.02,55],[2016.05,62],[2016.09,77],[2016.107,91],[2016.125,112],[2016.142,119],[2016.16,205],[2016.17,194],[2016.185,148],[2016.2,112],[2016.22,105],[2016.24,112],[2016.26,105],[2016.28,98],[2016.29,70],[2016.3,0],
 [2016.865,0],[2016.886,6],[2016.904,20],[2016.94,41],[2016.975,45],[2017.011,77],[2017.046,77],[2017.082,84],[2017.1,148],[2017.11,180],[2017.124,198],[2017.142,148],[2017.171,155],[2017.189,148],[2017.224,141],[2017.242,105],[2017.26,34],[2017.278,27],[2017.29,0],
 [2017.85,0],[2017.886,9],[2017.94,27],[2017.975,41],[2018.011,52],[2018.046,63],[2018.082,77],[2018.11,127],[2018.135,112],[2018.171,102],[2018.206,102],[2018.224,112],[2018.26,109],[2018.288,119],[2018.302,98],[2018.31,0],
 [2018.85,0],[2018.865,5],[2018.9,13],[2018.936,27],[2018.989,41],[2019.043,70],[2019.078,98],[2019.114,127],[2019.149,137],[2019.178,148],[2019.203,141],[2019.238,127],[2019.263,98],[2019.285,77],[2019.3,0],[2019.385,0]
];
const westWetlandBL = [
 [2015.84,0],[2015.96,0],[2015.98,30],[2016.0,60],[2016.02,90],[2016.036,112],[2016.07,140],[2016.107,169],[2016.125,180],[2016.142,198],[2016.16,255],[2016.178,283],[2016.189,262],[2016.196,233],[2016.214,169],[2016.231,148],[2016.267,134],[2016.285,112],[2016.292,77],[2016.302,27],[2016.31,0],
 [2016.87,0],[2016.9,25],[2016.94,60],[2016.975,85],[2017.011,118],[2017.046,155],[2017.064,185],[2017.082,237],[2017.1,265],[2017.117,294],[2017.135,280],[2017.153,265],[2017.189,262],[2017.224,240],[2017.242,208],[2017.253,148],[2017.26,119],[2017.27,84],[2017.278,48],[2017.288,13],[2017.295,0],
 [2017.86,0],[2017.88,15],[2017.9,35],[2017.922,55],[2017.96,80],[2017.993,102],[2018.02,130],[2018.046,155],[2018.082,187],[2018.117,219],[2018.153,233],[2018.18,240],[2018.206,255],[2018.24,262],[2018.278,276],[2018.295,287],[2018.305,251],[2018.313,198],[2018.32,169],[2018.325,105],[2018.33,55],[2018.338,0],
 [2018.86,0],[2018.88,15],[2018.9,35],[2018.936,60],[2018.97,100],[2019.007,155],[2019.043,205],[2019.07,230],[2019.096,255],[2019.132,280],[2019.167,301],[2019.185,311],[2019.2,305],[2019.238,297],[2019.256,265],[2019.274,212],[2019.285,169],[2019.292,112],[2019.299,77],[2019.31,41],[2019.32,0],[2019.385,0]
];

const centralWetlandCam = [
 [2015.964,4],[2015.975,13],[2015.989,55],[2016.0,70],[2016.018,73],[2016.036,70],[2016.046,63],[2016.061,48],[2016.075,70],[2016.089,84],[2016.103,105],[2016.117,127],[2016.128,148],[2016.139,176],[2016.149,198],[2016.16,212],[2016.171,219],[2016.181,240],[2016.192,226],[2016.199,176],[2016.206,112],[2016.217,77],[2016.228,55],[2016.242,41],[2016.253,48],[2016.267,34],[2016.278,20],[2016.288,9],[2016.302,2],
 [2016.875,13],[2016.89,23],[2016.904,31],[2016.922,41],[2016.94,55],[2016.954,66],[2016.968,77],[2016.982,91],[2016.996,105],[2017.011,119],[2017.025,141],[2017.039,162],[2017.053,180],[2017.068,169],[2017.082,148],[2017.096,134],[2017.11,127],[2017.124,112],[2017.139,105],[2017.153,98],[2017.167,91],[2017.182,105],[2017.196,91],[2017.21,112],[2017.224,127],[2017.238,155],[2017.253,162],[2017.263,134],[2017.27,98],[2017.278,70],[2017.285,41],[2017.295,13],[2017.313,2],
 [2017.851,6],[2017.875,13],[2017.904,18],[2017.932,13],[2017.957,20],[2017.982,23],[2018.011,27],[2018.028,16],[2018.046,31],[2018.068,34],[2018.089,27],[2018.11,38],[2018.132,41],[2018.153,34],[2018.174,45],[2018.196,48],[2018.217,41],[2018.231,55],[2018.246,48],[2018.26,41],[2018.274,55],[2018.288,48],[2018.302,34],[2018.317,20],[2018.331,6],
 [2018.811,6],[2018.829,13],[2018.847,23],[2018.865,34],[2018.883,48],[2018.9,59],[2018.918,70],[2018.936,84],[2018.954,98],[2018.972,112],[2018.989,127],[2019.007,119],[2019.025,105],[2019.043,84],[2019.06,70],[2019.078,84],[2019.096,105],[2019.114,134],[2019.132,155],[2019.149,176],[2019.167,191],[2019.185,198],[2019.203,180],[2019.22,169],[2019.238,155],[2019.256,141],[2019.274,127],[2019.285,105],[2019.292,84],[2019.302,55],[2019.31,27],[2019.32,6]
];
const centralWetlandSurvey = [[2016.196,154],[2017.117,142],[2019.157,119]];
const centralWetlandBLS = [
 [2015.84,0],[2015.86,0],[2015.87,9],[2015.88,0],[2015.965,0],[2015.99,20],[2016.018,48],[2016.036,59],[2016.053,63],[2016.09,70],[2016.107,77],[2016.125,84],[2016.142,98],[2016.16,112],[2016.178,148],[2016.189,155],[2016.2,84],[2016.214,112],[2016.23,70],[2016.25,77],[2016.267,63],[2016.285,48],[2016.295,34],[2016.302,0],
 [2016.865,0],[2016.886,13],[2016.904,27],[2016.922,34],[2016.94,55],[2016.975,77],[2017.011,98],[2017.046,119],[2017.082,141],[2017.1,155],[2017.117,176],[2017.135,169],[2017.153,169],[2017.171,162],[2017.189,165],[2017.224,155],[2017.242,148],[2017.26,127],[2017.278,55],[2017.288,0],
 [2017.85,0],[2017.9,9],[2017.94,13],[2017.975,16],[2018.011,23],[2018.046,27],[2018.082,48],[2018.1,70],[2018.117,91],[2018.135,84],[2018.153,70],[2018.171,77],[2018.189,70],[2018.224,73],[2018.26,84],[2018.288,98],[2018.302,91],[2018.31,0],
 [2018.85,0],[2018.865,6],[2018.883,20],[2018.918,31],[2018.954,34],[2018.989,41],[2019.025,55],[2019.06,70],[2019.096,98],[2019.132,127],[2019.149,162],[2019.167,176],[2019.185,169],[2019.203,162],[2019.238,158],[2019.263,155],[2019.285,98],[2019.3,27],[2019.31,0],[2019.385,0]
];
const centralWetlandBL = [
 [2015.84,0],[2015.96,0],[2015.99,20],[2016.02,35],[2016.05,50],[2016.08,65],[2016.11,85],[2016.13,110],[2016.155,150],[2016.178,208],[2016.19,190],[2016.2,170],[2016.214,148],[2016.231,130],[2016.249,110],[2016.267,84],[2016.278,55],[2016.288,34],[2016.3,0],
 [2016.865,0],[2016.89,20],[2016.92,50],[2016.95,80],[2016.98,115],[2017.0,150],[2017.028,198],[2017.064,219],[2017.1,247],[2017.117,276],[2017.135,301],[2017.153,308],[2017.182,315],[2017.206,322],[2017.224,312],[2017.249,290],[2017.26,233],[2017.27,205],[2017.278,169],[2017.285,127],[2017.295,84],[2017.302,34],[2017.31,0],
 [2017.86,0],[2017.88,15],[2017.91,30],[2017.94,50],[2017.96,65],[2017.993,84],[2018.03,115],[2018.06,130],[2018.082,148],[2018.117,176],[2018.153,180],[2018.189,185],[2018.224,208],[2018.26,212],[2018.278,233],[2018.295,247],[2018.31,205],[2018.32,169],[2018.331,112],[2018.338,55],[2018.345,0],
 [2018.86,0],[2018.88,15],[2018.9,35],[2018.936,65],[2018.97,100],[2019.007,134],[2019.025,159],[2019.06,212],[2019.096,237],[2019.132,262],[2019.167,287],[2019.185,311],[2019.2,300],[2019.22,297],[2019.24,300],[2019.263,269],[2019.285,215],[2019.292,183],[2019.3,148],[2019.31,112],[2019.318,70],[2019.325,27],[2019.335,0],[2019.385,0]
];

const eastWetlandCam = [
 [2016.018,27],[2016.028,38],[2016.043,31],[2016.053,41],[2016.064,27],[2016.078,20],[2016.089,34],[2016.107,48],[2016.125,63],[2016.142,84],[2016.16,112],[2016.171,130],[2016.181,105],[2016.196,77],[2016.214,48],[2016.224,27],[2016.238,55],[2016.249,41],[2016.26,27],[2016.274,13],[2016.285,6],
 [2016.886,20],[2016.897,13],[2016.911,27],[2016.922,41],[2016.94,48],[2016.957,63],[2016.975,84],[2016.993,98],[2017.011,119],[2017.021,148],[2017.032,162],[2017.046,141],[2017.064,127],[2017.082,112],[2017.1,116],[2017.117,134],[2017.135,127],[2017.153,112],[2017.171,119],[2017.189,141],[2017.206,169],[2017.224,155],[2017.242,127],[2017.253,98],
 [2017.84,6],[2017.868,9],[2017.897,14],[2017.922,20],[2017.947,13],[2017.975,16],[2017.996,23],[2018.028,31],[2018.046,38],[2018.064,45],[2018.082,52],[2018.103,63],[2018.125,73],[2018.146,70],[2018.167,77],[2018.189,84],[2018.206,91],[2018.224,98],[2018.242,91],[2018.26,95],[2018.278,80],[2018.288,59],
 [2018.865,48],[2018.876,55],[2018.89,63],[2018.908,59],[2018.922,70],[2018.936,55],[2018.954,70],[2018.972,84],[2018.989,98],[2019.007,112],[2019.025,127],[2019.043,141],[2019.06,148],[2019.078,155],[2019.096,162],[2019.114,176],[2019.132,191],[2019.149,205],[2019.167,212],[2019.185,205],[2019.203,191],[2019.22,180],[2019.238,169],[2019.256,155],[2019.274,134],[2019.285,112],[2019.292,84],[2019.299,63],[2019.31,34],[2019.32,6]
];
const eastWetlandSurvey = [[2016.214,77],[2017.124,173],[2019.185,225]];
const eastWetlandBLS = [
 [2015.84,0],[2015.87,2],[2015.9,0],[2015.975,0],[2015.989,5],[2016.0,38],[2016.036,41],[2016.053,48],[2016.071,48],[2016.089,55],[2016.107,62],[2016.125,70],[2016.142,98],[2016.16,127],[2016.178,155],[2016.196,112],[2016.214,84],[2016.231,63],[2016.249,41],[2016.267,20],[2016.285,6],[2016.302,0],
 [2016.87,0],[2016.9,6],[2016.92,16],[2016.94,31],[2016.975,41],[2016.993,48],[2017.011,52],[2017.046,48],[2017.064,55],[2017.082,63],[2017.1,70],[2017.117,98],[2017.132,70],[2017.153,63],[2017.171,55],[2017.189,41],[2017.224,38],[2017.242,27],[2017.26,6],[2017.275,0],
 [2017.85,0],[2017.9,2],[2017.94,9],[2017.975,20],[2018.011,31],[2018.046,41],[2018.082,48],[2018.117,66],[2018.135,55],[2018.171,48],[2018.206,38],[2018.242,38],[2018.278,23],[2018.313,2],[2018.33,0],
 [2018.85,0],[2018.883,13],[2018.918,20],[2018.954,23],[2018.989,34],[2019.025,55],[2019.06,77],[2019.096,112],[2019.132,134],[2019.167,162],[2019.203,144],[2019.238,134],[2019.263,112],[2019.285,77],[2019.298,0],[2019.385,0]
];
const eastWetlandBL = [
 [2015.84,0],[2015.96,0],[2015.985,20],[2016.01,40],[2016.036,55],[2016.06,65],[2016.089,80],[2016.107,116],[2016.125,140],[2016.142,176],[2016.16,190],[2016.175,205],[2016.189,219],[2016.2,175],[2016.214,150],[2016.231,120],[2016.249,77],[2016.267,48],[2016.285,20],[2016.295,0],
 [2016.86,0],[2016.886,27],[2016.904,55],[2016.94,85],[2016.97,105],[2016.993,119],[2017.02,145],[2017.05,170],[2017.075,190],[2017.1,212],[2017.117,230],[2017.135,232],[2017.153,220],[2017.171,205],[2017.189,194],[2017.215,180],[2017.242,155],[2017.253,77],[2017.265,34],[2017.275,0],
 [2017.86,0],[2017.9,8],[2017.94,20],[2017.975,34],[2018.011,45],[2018.046,55],[2018.082,77],[2018.11,105],[2018.135,104],[2018.171,98],[2018.206,91],[2018.242,84],[2018.265,60],[2018.278,41],[2018.295,13],[2018.31,0],
 [2018.86,0],[2018.883,20],[2018.918,40],[2018.954,62],[2018.989,84],[2019.025,105],[2019.06,134],[2019.096,155],[2019.132,175],[2019.167,212],[2019.203,230],[2019.22,223],[2019.249,183],[2019.263,162],[2019.274,148],[2019.285,98],[2019.292,55],[2019.302,20],[2019.31,0],[2019.385,0]
];

// Grid of panels, one row per land cover, one column per region
const PANELS = [
  [
    { cam: westConiferousCam, survey: westConiferousSurvey, bls: westConiferousBLS, bl: westConiferousBL },
    { cam: centralConiferousCam, survey: centralConiferousSurvey, bls: centralConiferousBLS, bl: centralConiferousBL },
    { cam: eastConiferousCam, survey: eastConiferousSurvey, bls: eastConiferousBLS, bl: eastConiferousBL }
  ],
  [
    { cam: westDeciduousCam, survey: westDeciduousSurvey, bls: westDeciduousBLS, bl: westDeciduousBL },
    { cam: centralDeciduousCam, survey: centralDeciduousSurvey, bls: centralDeciduousBLS, bl: centralDeciduousBL },
    { cam: eastDeciduousCam, survey: eastDeciduousSurvey, bls: eastDeciduousBLS, bl: eastDeciduousBL }
  ],
  [
    { cam: westMixedCam, survey: westMixedSurvey, bls: westMixedBLS, bl: westMixedBL },
    { cam: centralMixedCam, survey: centralMixedSurvey, bls: centralMixedBLS, bl: centralMixedBL },
    { cam: eastMixedCam, survey: eastMixedSurvey, bls: eastMixedBLS, bl: eastMixedBL }
  ],
  [
    { cam: westWetlandCam, survey: westWetlandSurvey, bls: westWetlandBLS, bl: westWetlandBL },
    { cam: centralWetlandCam, survey: centralWetlandSurvey, bls: centralWetlandBLS, bl: centralWetlandBL },
    { cam: eastWetlandCam, survey: eastWetlandSurvey, bls: eastWetlandBLS, bl: eastWetlandBL }
  ]
];

// ---------------- layout ----------------
const COL_LEFT = [79, 457, 836];
const ROW_TOP = [37, 236, 435, 634];
const PANEL_W = 367, PANEL_H = 188;
const X_MIN = 2015.6616, X_MAX = 2019.5797;
const Y_MIN = -18.5, Y_MAX = 382.5;
const FONT = '"Liberation Sans", Arial, sans-serif';
const TICK_FONT_SIZE = 16;

const page = document.getElementById('page');
const toXY = a => a.map(p => ({ x: p[0], y: p[1] }));
const near = (v, list) => list.some(t => Math.abs(t - v) < 1e-6);
const breaks = (major, minor) => major.concat(minor).sort((a, b) => a - b).map(v => ({ value: v }));

// Draws the dark panel frame over the plotting area
const framePlugin = {
  id: 'panelFrame',
  afterDraw(chart) {
    const { ctx, chartArea: a } = chart;
    ctx.save();
    ctx.strokeStyle = '#333333';
    ctx.lineWidth = 1.2;
    ctx.strokeRect(Math.round(a.left) + 0.5, Math.round(a.top) + 0.5, Math.round(a.right - a.left) - 1, Math.round(a.bottom - a.top) - 1);
    ctx.restore();
  }
};

function gridOptions(majors, withTicks) {
  return {
    color: '#EBEBEB',
    lineWidth: ctx => (ctx.tick && near(ctx.tick.value, majors)) ? 1.8 : 0.9,
    drawTicks: withTicks,
    tickLength: 5,
    tickWidth: 1.2,
    tickColor: ctx => (ctx.tick && near(ctx.tick.value, majors)) ? '#333333' : 'rgba(0,0,0,0)'
  };
}

function createChart(cv, w, h, pad, set, isLeft, isBottom) {
  cv.width = w; cv.height = h;
  cv.style.width = w + 'px'; cv.style.height = h + 'px';
  return new Chart(cv, {
    type: 'scatter',
    data: {
      datasets: [
        {
          label: 'snow survey mean', data: toXY(set.survey), order: 0,
          pointRadius: 7.5, pointBackgroundColor: '#FF0000', pointBorderColor: '#000000', pointBorderWidth: 1, showLine: false
        },
        {
          label: 'BL', data: toXY(set.bl), order: 1, showLine: true,
          borderColor: '#0000FF', borderWidth: 3, borderDash: [3, 10], borderCapStyle: 'butt', borderJoinStyle: 'bevel',
          pointRadius: 0, tension: 0, fill: false
        },
        {
          label: 'BLS', data: toXY(set.bls), order: 2, showLine: true,
          borderColor: '#FF0000', borderWidth: 2, borderJoinStyle: 'round', pointRadius: 0, tension: 0, fill: false
        },
        {
          label: 'trail camera', data: toXY(set.cam), order: 3, showLine: false,
          pointRadius: 2.6, pointBackgroundColor: '#FFFFFF', pointBorderColor: '#000000', pointBorderWidth: 0.9
        }
      ]
    },
    options: {
      responsive: false,
      maintainAspectRatio: false,
      animation: false,
      devicePixelRatio: 1,
      events: [],
      layout: { autoPadding: false, padding: pad },
      plugins: { legend: { display: false }, tooltip: { enabled: false } },
      scales: {
        x: {
          type: 'linear', position: 'bottom', min: X_MIN, max: X_MAX,
          afterBuildTicks: s => { s.ticks = breaks(X_TICKS, X_MINOR); },
          border: { display: false },
          grid: gridOptions(X_TICKS, isBottom),
          ticks: {
            display: isBottom, autoSkip: false, maxRotation: 0, minRotation: 0,
            padding: 2, color: '#4D4D4D', font: { family: FONT, size: TICK_FONT_SIZE },
            callback: v => near(v, X_TICKS) ? String(Math.round(v)) : ''
          }
        },
        y: {
          type: 'linear', position: 'left', min: Y_MIN, max: Y_MAX,
          afterBuildTicks: s => { s.ticks = breaks(Y_TICKS, Y_MINOR); },
          border: { display: false },
          grid: gridOptions(Y_TICKS, isLeft),
          ticks: {
            display: isLeft, autoSkip: false,
            padding: 4, color: '#4D4D4D', font: { family: FONT, size: TICK_FONT_SIZE },
            callback: v => near(v, Y_TICKS) ? String(Math.round(v)) : ''
          }
        }
      }
    },
    plugins: [framePlugin]
  });
}

// Builds one facet; a first layout pass measures the axis space so the
// plotting area can be given its exact size and place on the page
function makePanel(r, c) {
  const set = PANELS[r][c];
  const isLeft = c === 0;
  const isBottom = r === ROWS.length - 1;
  const cv = document.createElement('canvas');
  page.appendChild(cv);

  let w = (isLeft ? 80 : 3) + PANEL_W + 3;
  let h = 3 + PANEL_H + (isBottom ? 40 : 3);
  let pad = { left: isLeft ? 0 : 3, top: 3, right: 3, bottom: isBottom ? 0 : 3 };
  let chart = createChart(cv, w, h, pad, set, isLeft, isBottom);
  let a = chart.chartArea;
  const axisW = isLeft ? a.left : 0;
  const axisH = isBottom ? (h - a.bottom) : 0;
  const leftSpace = isLeft ? Math.ceil(axisW) : Math.ceil(a.left);
  const topSpace = Math.ceil(a.top);
  const bottomSpace = Math.ceil(h - a.bottom);
  chart.destroy();

  pad = {
    left: isLeft ? leftSpace - axisW : leftSpace,
    top: topSpace,
    right: 3,
    bottom: isBottom ? bottomSpace - axisH : bottomSpace
  };
  w = leftSpace + PANEL_W + 3;
  h = topSpace + PANEL_H + bottomSpace;
  chart = createChart(cv, w, h, pad, set, isLeft, isBottom);
  a = chart.chartArea;
  cv.style.left = (COL_LEFT[c] - Math.round(a.left)) + 'px';
  cv.style.top = (ROW_TOP[r] - Math.round(a.top)) + 'px';
}

for (let r = 0; r < ROWS.length; r++) {
  for (let c = 0; c < COLS.length; c++) makePanel(r, c);
}

// Facet strip labels
COLS.forEach((name, c) => {
  const d = document.createElement('div');
  d.className = 'stripTop';
  d.textContent = name;
  d.style.left = COL_LEFT[c] + 'px';
  d.style.top = '11px';
  page.appendChild(d);
});
ROWS.forEach((name, r) => {
  const d = document.createElement('div');
  d.className = 'stripRight';
  d.textContent = name;
  d.style.left = (1215 - PANEL_H / 2) + 'px';
  d.style.top = (ROW_TOP[r] + PANEL_H / 2 - 9) + 'px';
  page.appendChild(d);
});

// Axis title
const yt = document.createElement('div');
yt.className = 'ytitle';
yt.textContent = 'SWE (mm)';
yt.style.left = (18 - 100) + 'px';
yt.style.top = (428 - 11) + 'px';
page.appendChild(yt);

// Legend along the bottom
const LEGEND_Y = 915;
function addKey(svg, left, width) {
  const d = document.createElement('div');
  d.className = 'legKey';
  d.style.left = left + 'px';
  d.style.top = (LEGEND_Y - 10) + 'px';
  d.style.width = width + 'px';
  d.style.height = '20px';
  d.innerHTML = '<svg width="' + width + '" height="20" xmlns="http://www.w3.org/2000/svg">' + svg + '</svg>';
  page.appendChild(d);
}
function addText(text, left) {
  const d = document.createElement('div');
  d.className = 'legText';
  d.textContent = text;
  d.style.left = left + 'px';
  d.style.top = (LEGEND_Y - 9) + 'px';
  page.appendChild(d);
}
addKey('<circle cx="10" cy="10" r="2.6" fill="#fff" stroke="#000" stroke-width="0.9"/>', 388, 20);
addText('trail camera', 427);
addKey('<circle cx="10" cy="10" r="7.5" fill="#FF0000" stroke="#000" stroke-width="1"/>', 540, 20);
addText('snow survey mean', 573);
addKey('<line x1="0" y1="10" x2="32" y2="10" stroke="#FF0000" stroke-width="2"/>', 758, 32);
addText('BLS', 800);
addKey('<line x1="0" y1="10" x2="32" y2="10" stroke="#0000FF" stroke-width="3" stroke-dasharray="3 10"/>', 850, 32);
addText('BL', 892);
</script>
</body>
</html>
